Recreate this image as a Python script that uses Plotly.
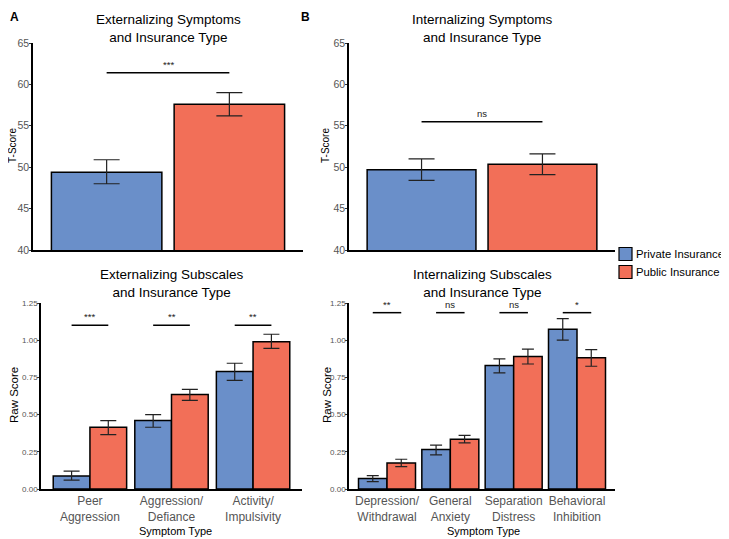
import plotly.graph_objects as go

BLUE = "#6A8FC9"
RED = "#F26F58"
FONT = "Liberation Sans"

# top panels: T-scores (Private, Public)
ext_tscore = [49.4, 57.6]
ext_tscore_lo = [48.0, 56.2]
ext_tscore_hi = [50.9, 59.0]
int_tscore = [49.7, 50.35]
int_tscore_lo = [48.4, 49.1]
int_tscore_hi = [51.0, 51.6]

# bottom panels: raw subscale scores
ext_cats = ["Peer<br>Aggression", "Aggression/<br>Defiance", "Activity/<br>Impulsivity"]
ext_private = [0.087, 0.46, 0.79]
ext_private_lo = [0.06, 0.415, 0.73]
ext_private_hi = [0.12, 0.50, 0.845]
ext_public = [0.415, 0.635, 0.99]
ext_public_lo = [0.365, 0.595, 0.945]
ext_public_hi = [0.46, 0.67, 1.04]

int_cats = ["Depression/<br>Withdrawal", "General<br>Anxiety", "Separation<br>Distress", "Behavioral<br>Inhibition"]
int_private = [0.07, 0.265, 0.83, 1.073]
int_private_lo = [0.05, 0.23, 0.78, 1.0]
int_private_hi = [0.09, 0.295, 0.875, 1.145]
int_public = [0.175, 0.335, 0.89, 0.882]
int_public_lo = [0.15, 0.31, 0.84, 0.825]
int_public_hi = [0.20, 0.36, 0.94, 0.936]

groups = ["Private Insurance", "Public Insurance"]

# significance markers
ext_top_sig = ("***", 61.4)
int_top_sig = ("ns", 55.5)
ext_sub_sig = ["***", "**", "**"]
ext_sub_sig_y = 1.1
int_sub_sig = ["**", "ns", "ns", "*"]
int_sub_sig_y = 1.185

# the page body has an 8px margin, so the figure is a bit smaller than the window
OFF = 8
W, H = 729 - OFF, 539 - OFF


def err(vals, lo, hi):
    return [h - v for v, h in zip(vals, hi)], [v - l for v, l in zip(vals, lo)]


fig = go.Figure()

# top panels: one bar per insurance type
for axis, vals, lo, hi in [("", ext_tscore, ext_tscore_lo, ext_tscore_hi),
                           ("2", int_tscore, int_tscore_lo, int_tscore_hi)]:
    up, down = err(vals, lo, hi)
    for i, (name, col) in enumerate(zip(groups, [BLUE, RED])):
        fig.add_trace(go.Bar(
            x=[i + 1], y=[vals[i]], width=0.9, offset=-0.45,
            marker=dict(color=col, line=dict(color="black", width=1.5)),
            error_y=dict(type="data", array=[up[i]], arrayminus=[down[i]],
                         color="#222", thickness=1.2, width=13),
            name=name, showlegend=False,
            xaxis="x" + axis, yaxis="y" + axis,
        ))

# bottom panels: dodged bars
for axis, n, pv, plo, phi, qv, qlo, qhi, cap in [
    ("3", 3, ext_private, ext_private_lo, ext_private_hi, ext_public, ext_public_lo, ext_public_hi, 8),
    ("4", 4, int_private, int_private_lo, int_private_hi, int_public, int_public_lo, int_public_hi, 6),
]:
    xs = list(range(1, n + 1))
    for vals, lo, hi, name, col, off in [(pv, plo, phi, groups[0], BLUE, -0.45),
                                         (qv, qlo, qhi, groups[1], RED, 0.0)]:
        up, down = err(vals, lo, hi)
        fig.add_trace(go.Bar(
            x=xs, y=vals, width=0.45, offset=off,
            marker=dict(color=col, line=dict(color="black", width=1.5)),
            error_y=dict(type="data", array=up, arrayminus=down,
                         color="#222", thickness=1.2, width=cap),
            name=name, showlegend=False,
            xaxis="x" + axis, yaxis="y" + axis,
        ))

shapes = []
annotations = []


def sig(xref, yref, x0, x1, y, label):
    shapes.append(dict(type="line", xref=xref, yref=yref, x0=x0, x1=x1, y0=y, y1=y,
                       line=dict(color="black", width=1.5)))
    annotations.append(dict(xref=xref, yref=yref, x=(x0 + x1) / 2, y=y, text=label,
                            showarrow=False, yanchor="bottom", yshift=1,
                            font=dict(size=9.5, color="#222", family=FONT)))


sig("x", "y", 1, 2, ext_top_sig[1], ext_top_sig[0])
sig("x2", "y2", 1, 2, int_top_sig[1], int_top_sig[0])
for i, lab in enumerate(ext_sub_sig):
    sig("x3", "y3", i + 1 - 0.225, i + 1 + 0.225, ext_sub_sig_y, lab)
for i, lab in enumerate(int_sub_sig):
    sig("x4", "y4", i + 1 - 0.225, i + 1 + 0.225, int_sub_sig_y, lab)


def px_x(x):
    return (x - OFF) / W


def px_y(y):
    return 1 - (y - OFF) / H


def text(x, y, s, size, angle=0, color="black", xanchor="center", yanchor="middle"):
    annotations.append(dict(xref="paper", yref="paper", x=px_x(x), y=px_y(y), text=s,
                            showarrow=False, xanchor=xanchor, yanchor=yanchor, textangle=angle,
                            font=dict(size=size, color=color, family=FONT)))


# panel titles
text(168, 29, "Externalizing Symptoms<br>and Insurance Type", 13.5)
text(482, 29, "Internalizing Symptoms<br>and Insurance Type", 13.5)
text(172, 283, "Externalizing Subscales<br>and Insurance Type", 13.5)
text(482, 283, "Internalizing Subscales<br>and Insurance Type", 13.5)
text(OFF, OFF, "<b>A</b>", 12, xanchor="left", yanchor="top")
text(299, OFF, "<b>B</b>", 12, xanchor="left", yanchor="top")

# axis titles
text(12, 146, "T-Score", 10, angle=-90)
text(325, 146, "T-Score", 10, angle=-90)
text(14, 395, "Raw Score", 11.5, angle=-90)
text(327, 395, "Raw Score", 11.5, angle=-90)
text(175, 531, "Symptom Type", 11)
text(483, 531, "Symptom Type", 11)

# legend
for i, (name, col) in enumerate(zip(groups, [BLUE, RED])):
    yc = 254 + 18 * i
    shapes.append(dict(type="rect", xref="paper", yref="paper",
                       x0=px_x(619), x1=px_x(632), y0=px_y(yc + 6.5), y1=px_y(yc - 6.5),
                       fillcolor=col, line=dict(color="black", width=1.2)))
    text(634, yc, name, 11.3, xanchor="left")

xbase = dict(showline=True, linecolor="black", linewidth=1.5, showgrid=False, zeroline=False,
             ticks="", tickangle=0, automargin=False,
             tickfont=dict(size=12, color="#555", family=FONT))
ybase = dict(showline=True, linecolor="black", linewidth=1.5, showgrid=False, zeroline=False,
             ticks="outside", ticklen=2, tickcolor="#333", tickwidth=1, automargin=False,
             ticklabelstandoff=-2)

top_y = [px_y(250), px_y(43)]
bot_y = [px_y(489), px_y(303)]

fig.update_layout(
    width=W, height=H,
    margin=dict(l=0, r=0, t=0, b=0),
    plot_bgcolor="white", paper_bgcolor="white",
    font=dict(family=FONT),
    barmode="overlay",
    showlegend=False,
    shapes=shapes, annotations=annotations,
    xaxis=dict(xbase, domain=[px_x(33), px_x(303)], range=[0.4, 2.6], showticklabels=False, anchor="y"),
    yaxis=dict(ybase, domain=top_y, range=[40, 65], dtick=5, anchor="x",
               tickfont=dict(size=10.5, color="#555", family=FONT)),
    xaxis2=dict(xbase, domain=[px_x(349), px_x(615)], range=[0.4, 2.6], showticklabels=False, anchor="y2"),
    yaxis2=dict(ybase, domain=top_y, range=[40, 65], dtick=5, anchor="x2",
                tickfont=dict(size=10.5, color="#555", family=FONT)),
    xaxis3=dict(xbase, domain=[px_x(41), px_x(302)], range=[0.4, 3.6], anchor="y3",
                tickvals=[1, 2, 3], ticktext=ext_cats),
    yaxis3=dict(ybase, domain=bot_y, range=[0, 1.25], tickvals=[0, 0.25, 0.5, 0.75, 1.0, 1.25],
                tickformat=".2f", anchor="x3",
                tickfont=dict(size=8, color="#555", family=FONT)),
    xaxis4=dict(xbase, domain=[px_x(349), px_x(615)], range=[0.4, 4.6], anchor="y4",
                tickvals=[1, 2, 3, 4], ticktext=int_cats),
    yaxis4=dict(ybase, domain=bot_y, range=[0, 1.25], tickvals=[0, 0.25, 0.5, 0.75, 1.0, 1.25],
                tickformat=".2f", anchor="x4",
                tickfont=dict(size=8, color="#555", family=FONT)),
)

fig.write_html("out.html")
